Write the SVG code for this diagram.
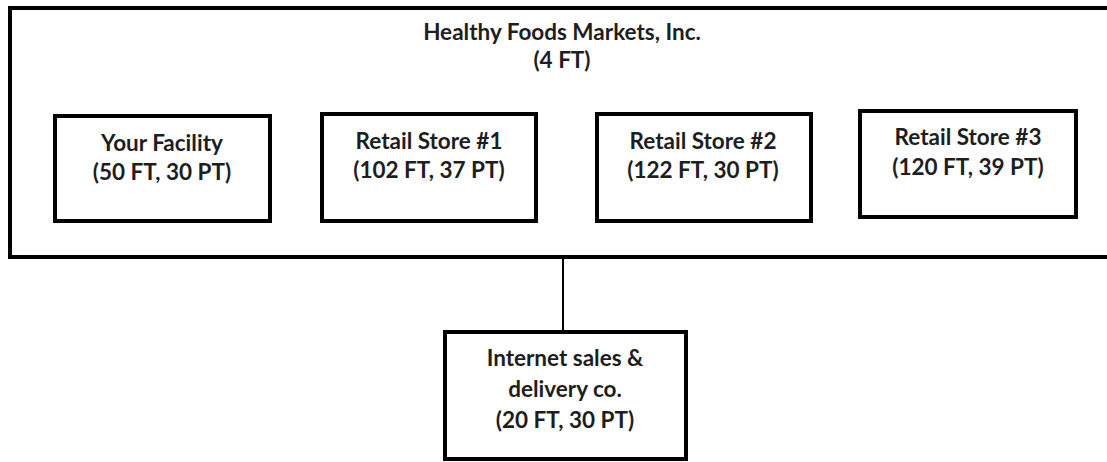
<svg xmlns="http://www.w3.org/2000/svg" width="1107" height="462" viewBox="0 0 1107 462">
<style>
.box{fill:#fff;stroke:#000;stroke-width:4}
.t{font-family:Lato,"Open Sans","Liberation Sans",sans-serif;font-weight:bold;font-size:22.5px;fill:#1e1e1e;text-anchor:middle}
.c{stroke:#000;stroke-width:2;fill:none}
</style>
<rect width="1107" height="462" fill="#fff"/>
<g id="parent">
<rect class="box" x="10" y="8" width="1110" height="249"/>
<text class="t" x="562" y="40">Healthy Foods Markets, Inc.</text>
<text class="t" x="562" y="68">(4 FT)</text>
</g>
<g id="connectors">
<line class="c" x1="563" y1="257" x2="563" y2="332"/>
</g>
<g id="your-facility">
<rect class="box" x="55" y="116" width="215" height="105"/>
<text class="t" x="162" y="151">Your Facility</text>
<text class="t" x="162" y="180">(50 FT, 30 PT)</text>
</g>
<g id="store1">
<rect class="box" x="322" y="114" width="214" height="107"/>
<text class="t" x="429" y="149">Retail Store #1</text>
<text class="t" x="429" y="178">(102 FT, 37 PT)</text>
</g>
<g id="store2">
<rect class="box" x="597" y="114" width="214" height="107"/>
<text class="t" x="703" y="149">Retail Store #2</text>
<text class="t" x="703" y="178">(122 FT, 30 PT)</text>
</g>
<g id="store3">
<rect class="box" x="860" y="111" width="216" height="106"/>
<text class="t" x="968" y="145">Retail Store #3</text>
<text class="t" x="968" y="175">(120 FT, 39 PT)</text>
</g>
<g id="internet">
<rect class="box" x="445" y="332" width="241" height="127"/>
<text class="t" x="565" y="366">Internet sales &amp;</text>
<text class="t" x="565" y="397">delivery co.</text>
<text class="t" x="565" y="428">(20 FT, 30 PT)</text>
</g>
</svg>
